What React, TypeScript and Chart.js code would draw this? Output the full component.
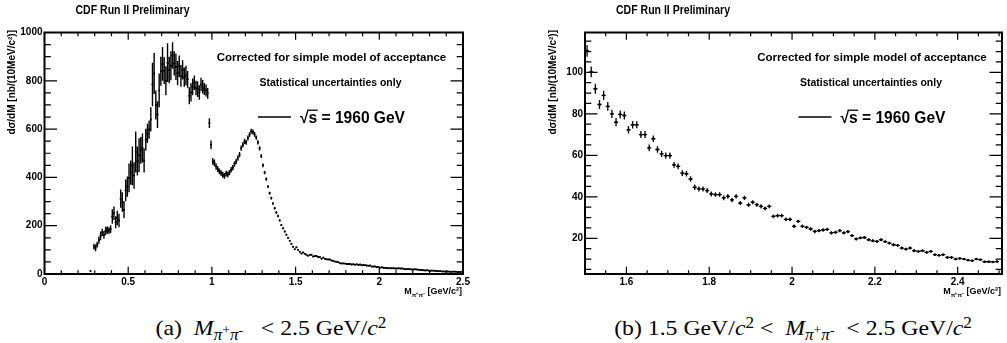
import { useEffect, useRef } from "react";
import { Chart, registerables } from "chart.js";

Chart.register(...registerables);

// ---- histogram binning (10 MeV/c^2 bins) ----
const BIN_WIDTH = 0.01;
const LOW_FIRST_BIN = 0.275;
const MID_FIRST_BIN = 1.005;
const HIGH_FIRST_BIN = 1.505;

// dσ/dM values, 0.275 – 0.995 GeV/c^2
const lowMassValues: (number | null)[] = [
  12, null, 113, 108, 122, 140, 158, 172, 162, 178,
  182, 180, 186, 238, 252, 214, 232, 222, 312, 298,
  266, 346, 362, 398, 420, 448, 408, 505, 468, 492,
  512, 522, 470, 556, 582, 598, 640, 785, 830, 700,
  660, 760, 840, 870, 842, 800, 875, 845, 862, 905,
  872, 858, 832, 860, 820, 845, 815, 822, 806, 738,
  752, 775, 792, 770, 765, 752, 785, 775, 766, 760,
  748, 625, 535,
];
const lowMassErrors: (number | null)[] = [
  3, null, 12, 14, 12, 15, 18, 15, 16, 18,
  15, 14, 16, 30, 28, 25, 30, 28, 38, 40,
  35, 45, 42, 60, 50, 80, 55, 85, 60, 70,
  55, 60, 50, 45, 40, 38, 50, 90, 85, 60,
  55, 70, 60, 70, 55, 60, 80, 55, 60, 55,
  50, 55, 50, 45, 45, 40, 40, 40, 35, 35,
  38, 35, 30, 30, 32, 30, 28, 28, 25, 25,
  22, 20, 18,
];

// 1.005 – 1.495 GeV/c^2
const midMassValues: number[] = [
  466, 460, 445, 434, 425, 418, 411, 406, 416, 412,
  420, 432, 440, 455, 466, 480, 494, 521, 535, 549,
  545, 563, 577, 591, 588, 578, 565, 545, 520, 488,
  450, 420, 393, 362, 335, 314, 292, 272, 255, 240,
  222, 203, 189, 176, 163, 150, 138, 125, 113, 103,
];
const midMassErrors: number[] = [
  14, 14, 13, 13, 12, 12, 12, 12, 12, 12,
  11, 11, 11, 11, 11, 11, 11, 11, 11, 11,
  10, 10, 10, 10, 10, 10, 9, 9, 9, 8,
  8, 7, 7, 6, 6, 6, 5, 5, 5, 5,
  4, 4, 4, 4, 4, 3, 3, 3, 3, 3,
];

// 1.505 – 2.495 GeV/c^2
const highMassValues: number[] = [
  110.3, 100.2, 92.1, 84.5, 88.9, 83.6, 80.0, 76.0, 79.7, 79.2,
  72.3, 74.7, 74.7, 70.0, 70.0, 63.6, 68.0, 62.8, 60.7, 59.9,
  59.9, 55.4, 54.7, 51.4, 51.1, 48.6, 44.6, 43.8, 43.8, 43.0,
  41.4, 41.1, 41.1, 39.5, 40.2, 38.5, 40.2, 37.0, 39.5, 36.1,
  37.4, 36.2, 35.4, 34.4, 35.4, 30.6, 30.9, 30.9, 29.1, 29.1,
  25.8, 28.2, 25.8, 25.3, 24.5, 23.3, 23.7, 24.0, 24.3, 22.6,
  22.9, 23.7, 22.6, 23.2, 21.3, 19.7, 20.2, 20.4, 19.3, 18.8,
  18.5, 19.3, 18.4, 17.7, 16.9, 16.6, 15.3, 14.8, 15.3, 14.0,
  13.7, 14.0, 13.2, 13.7, 12.1, 11.8, 12.1, 10.8, 10.8, 10.0,
  10.3, 10.0, 9.5, 9.2, 10.0, 9.7, 8.7, 8.7, 8.6, 8.8,
];
const highMassErrors: number[] = [
  2.8, 2.6, 2.4, 2.2, 2.2, 2.1, 2.0, 2.0, 1.9, 1.9,
  1.8, 1.8, 1.7, 1.7, 1.7, 1.6, 1.6, 1.6, 1.5, 1.5,
  1.5, 1.4, 1.4, 1.4, 1.3, 1.3, 1.3, 1.2, 1.2, 1.2,
  1.2, 1.1, 1.1, 1.1, 1.1, 1.1, 1.0, 1.0, 1.0, 1.0,
  1.0, 1.0, 1.0, 0.9, 0.9, 0.9, 0.9, 0.9, 0.9, 0.9,
  0.8, 0.8, 0.8, 0.8, 0.8, 0.8, 0.8, 0.8, 0.8, 0.8,
  0.8, 0.8, 0.8, 0.8, 0.7, 0.7, 0.7, 0.7, 0.7, 0.7,
  0.7, 0.7, 0.7, 0.7, 0.7, 0.7, 0.7, 0.7, 0.7, 0.7,
  0.6, 0.6, 0.6, 0.6, 0.6, 0.6, 0.6, 0.6, 0.6, 0.6,
  0.5, 0.5, 0.5, 0.5, 0.5, 0.5, 0.5, 0.5, 0.5, 0.5,
];

// ---- axis tick labels ----
const xTicksFull = [0, 0.5, 1, 1.5, 2, 2.5];
const yTicksFull = [0, 200, 400, 600, 800, 1000];
const xTicksZoom = [1.6, 1.8, 2, 2.2, 2.4];
const yTicksZoom = [20, 40, 60, 80, 100];

// ---- texts ----
const titleText = "CDF Run II Preliminary";
const legendLine1 = "Corrected for simple model of acceptance";
const legendLine2 = "Statistical uncertainties only";
const energyText = " = 1960 GeV";
const yAxisTitle = "dσ/dM [nb/(10MeV/c²)]";

const FONT = "'Liberation Sans', Arial, Helvetica, sans-serif";

const binCentres = (first: number, n: number) =>
  Array.from({ length: n }, (_, i) => Math.round((first + i * BIN_WIDTH) * 1000) / 1000);

const lowX = binCentres(LOW_FIRST_BIN, lowMassValues.length);
const midX = binCentres(MID_FIRST_BIN, midMassValues.length);
const highX = binCentres(HIGH_FIRST_BIN, highMassValues.length);

interface Panel {
  xs: number[];
  ys: (number | null)[];
  errs: (number | null)[];
  xMin: number; xMax: number; yMin: number; yMax: number;
  xTicks: number[]; yTicks: number[];
  xMinorStep: number; yMinorStep: number;
  canvasW: number; canvasH: number;
  left: number; right: number; top: number; bottom: number;
  pointRadius: number; errWidth: number;
}

const fullPanel: Panel = {
  xs: [...lowX, ...midX, ...highX],
  ys: [...lowMassValues, ...midMassValues, ...highMassValues],
  errs: [...lowMassErrors, ...midMassErrors, ...highMassErrors],
  xMin: 0, xMax: 2.5, yMin: 0, yMax: 1000,
  xTicks: xTicksFull, yTicks: yTicksFull,
  xMinorStep: 0.1, yMinorStep: 50,
  canvasW: 500, canvasH: 300,
  left: 44.5, right: 463, top: 32.5, bottom: 274,
  pointRadius: 1, errWidth: 1.4,
};

const zoomPanel: Panel = {
  xs: highX, ys: highMassValues, errs: highMassErrors,
  xMin: 1.5, xMax: 2.507, yMin: 2.8, yMax: 119.2,
  xTicks: xTicksZoom, yTicks: yTicksZoom,
  xMinorStep: 0.05, yMinorStep: 5,
  canvasW: 507, canvasH: 300,
  left: 85, right: 502, top: 32.5, bottom: 274,
  pointRadius: 1.2, errWidth: 1.3,
};

function decorPlugin(p: Panel) {
  const near = (list: number[], v: number) => list.some((t) => Math.abs(t - v) < 1e-6);
  return {
    id: "rootDecor",
    afterDatasetsDraw(chart: any) {
      const { ctx, chartArea: a } = chart;
      const sx = chart.scales.x;
      const sy = chart.scales.y;
      ctx.save();
      ctx.beginPath();
      ctx.rect(a.left, a.top, a.right - a.left, a.bottom - a.top);
      ctx.clip();
      ctx.strokeStyle = "#000";
      ctx.lineWidth = p.errWidth;
      ctx.beginPath();
      p.xs.forEach((x, i) => {
        const y = p.ys[i];
        const e = p.errs[i];
        if (y == null || e == null) return;
        const px = sx.getPixelForValue(x);
        const py = sy.getPixelForValue(y);
        ctx.moveTo(px, sy.getPixelForValue(y - e));
        ctx.lineTo(px, sy.getPixelForValue(y + e));
        ctx.moveTo(sx.getPixelForValue(x - BIN_WIDTH / 2), py);
        ctx.lineTo(sx.getPixelForValue(x + BIN_WIDTH / 2), py);
      });
      ctx.stroke();
      ctx.restore();
    },
    afterDraw(chart: any) {
      const { ctx, chartArea: a } = chart;
      const sx = chart.scales.x;
      const sy = chart.scales.y;
      ctx.save();
      ctx.strokeStyle = "#000";
      ctx.fillStyle = "#000";

      // tick marks (inside the frame, all four sides)
      const xMaj = 7.3, xMin = 3.7, yMaj = 12.5, yMin = 6.3;
      ctx.lineWidth = 1.2;
      ctx.beginPath();
      for (let k = Math.ceil(p.xMin / p.xMinorStep - 1e-6); k * p.xMinorStep <= p.xMax + 1e-6; k++) {
        const v = k * p.xMinorStep;
        const len = near(p.xTicks, v) ? xMaj : xMin;
        const px = sx.getPixelForValue(v);
        ctx.moveTo(px, a.bottom); ctx.lineTo(px, a.bottom - len);
        ctx.moveTo(px, a.top); ctx.lineTo(px, a.top + len);
      }
      for (let k = Math.ceil(p.yMin / p.yMinorStep - 1e-6); k * p.yMinorStep <= p.yMax + 1e-6; k++) {
        const v = k * p.yMinorStep;
        const len = near(p.yTicks, v) ? yMaj : yMin;
        const py = sy.getPixelForValue(v);
        ctx.moveTo(a.left, py); ctx.lineTo(a.left + len, py);
        ctx.moveTo(a.right, py); ctx.lineTo(a.right - len, py);
      }
      ctx.stroke();

      // frame
      ctx.lineWidth = 2;
      ctx.strokeRect(a.left, a.top, a.right - a.left, a.bottom - a.top);

      // title
      ctx.textBaseline = "middle";
      ctx.textAlign = "center";
      ctx.font = `bold 12px ${FONT}`;
      ctx.fillText(titleText, a.left + 88, 11, 114);

      // legend texts
      ctx.font = `bold 11.5px ${FONT}`;
      ctx.fillText(legendLine1, a.left + 287, 58, 236);
      ctx.fillText(legendLine2, a.left + 286, 83, 142);

      // legend sample line
      ctx.lineWidth = 1.5;
      ctx.beginPath();
      ctx.moveTo(a.left + 213.5, 117);
      ctx.lineTo(a.left + 246.5, 117);
      ctx.stroke();

      // √s = 1960 GeV
      ctx.font = `bold 16px ${FONT}`;
      ctx.textAlign = "left";
      ctx.textBaseline = "alphabetic";
      const wRoot = ctx.measureText("√").width;
      const wS = ctx.measureText("s").width;
      const wRest = ctx.measureText(energyText).width;
      const k = Math.min(1, 105 / (wRoot + wS + wRest));
      ctx.save();
      ctx.translate(a.left + 255.5, 123);
      ctx.scale(k, 1);
      ctx.fillText("√", 0, 0);
      ctx.fillText("s", wRoot, 0);
      ctx.fillText(energyText, wRoot + wS, 0);
      ctx.lineWidth = 1.3;
      ctx.beginPath();
      ctx.moveTo(wRoot - 1.5, -12.8);
      ctx.lineTo(wRoot + wS + 0.5, -12.8);
      ctx.stroke();
      ctx.restore();

      // y-axis title (rotated, right-aligned to top)
      ctx.save();
      ctx.translate(a.left - 32, 30);
      ctx.rotate(-Math.PI / 2);
      ctx.textAlign = "right";
      ctx.textBaseline = "middle";
      ctx.font = `bold 10px ${FONT}`;
      ctx.fillText(yAxisTitle, 0, 0, 122);
      ctx.restore();

      // x-axis title  M_{π+π-} [GeV/c²]
      ctx.textBaseline = "middle";
      ctx.textAlign = "left";
      ctx.font = `bold 9px ${FONT}`;
      const wM = ctx.measureText("M").width;
      const unit = " [GeV/c²]";
      const wUnit = ctx.measureText(unit).width;
      ctx.font = `bold 6px ${FONT}`;
      const sub = "π⁺π⁻";
      const wSub = ctx.measureText(sub).width;
      const x0 = a.right - 1 - (wM + wSub + wUnit);
      ctx.font = `bold 9px ${FONT}`;
      ctx.fillText("M", x0, 292);
      ctx.fillText(unit, x0 + wM + wSub, 292);
      ctx.font = `bold 6px ${FONT}`;
      ctx.fillText(sub, x0 + wM, 295);

      ctx.restore();
    },
  };
}

function buildConfig(p: Panel): any {
  const points = p.xs
    .map((x, i) => ({ x, y: p.ys[i] }))
    .filter((d) => d.y != null);
  const tickFont = { family: FONT, size: 10, weight: "bold" as const };
  return {
    type: "scatter",
    data: {
      datasets: [
        {
          data: points,
          pointRadius: p.pointRadius,
          pointBorderWidth: 0,
          pointBackgroundColor: "#000",
          borderColor: "#000",
          showLine: false,
        },
      ],
    },
    options: {
      responsive: false,
      maintainAspectRatio: false,
      animation: false,
      devicePixelRatio: 1,
      events: [],
      layout: {
        padding: { top: p.top, right: p.canvasW - p.right, left: 0, bottom: 0 },
      },
      plugins: {
        legend: { display: false },
        tooltip: { enabled: false },
        title: { display: false },
      },
      scales: {
        x: {
          type: "linear",
          position: "bottom",
          min: p.xMin,
          max: p.xMax,
          grid: { display: false, drawTicks: false, tickLength: 0 },
          border: { display: false },
          afterBuildTicks: (s: any) => {
            s.ticks = p.xTicks.map((v) => ({ value: v }));
          },
          afterFit: (s: any) => {
            s.height = p.canvasH - p.bottom;
          },
          ticks: {
            font: tickFont,
            color: "#000",
            padding: 2,
            maxRotation: 0,
            autoSkip: false,
            callback: (v: any) => String(Math.round(Number(v) * 1000) / 1000),
          },
        },
        y: {
          type: "linear",
          position: "left",
          min: p.yMin,
          max: p.yMax,
          grid: { display: false, drawTicks: false, tickLength: 0 },
          border: { display: false },
          afterBuildTicks: (s: any) => {
            s.ticks = p.yTicks.map((v) => ({ value: v }));
          },
          afterFit: (s: any) => {
            s.width = p.left;
          },
          ticks: {
            font: tickFont,
            color: "#000",
            padding: 2,
            autoSkip: false,
            callback: (v: any) => String(v),
          },
        },
      },
    },
    plugins: [decorPlugin(p)],
  };
}

const captionStyle: any = {
  position: "absolute",
  top: 315,
  fontFamily: "'Liberation Serif', 'Times New Roman', serif",
  fontSize: 22,
  lineHeight: "26px",
  whiteSpace: "nowrap",
  transform: "translateX(-50%) scaleX(1.08)",
  color: "#000",
};
const subStyle: any = { fontSize: "0.72em", verticalAlign: "-0.3em", lineHeight: 0 };
const supStyle: any = { fontSize: "0.72em", verticalAlign: "0.45em", lineHeight: 0 };
const subSupStyle: any = { fontSize: "0.8em", verticalAlign: "0.45em", lineHeight: 0 };

function MassSymbol() {
  return (
    <span>
      <i>M</i>
      <span style={subStyle}>
        <i>π</i>
        <span style={subSupStyle}>+</span>
        <i>π</i>
        <span style={subSupStyle}>-</span>
      </span>
    </span>
  );
}

export default function App() {
  const refA = useRef<HTMLCanvasElement>(null);
  const refB = useRef<HTMLCanvasElement>(null);

  useEffect(() => {
    const a = new Chart(refA.current as HTMLCanvasElement, buildConfig(fullPanel));
    const b = new Chart(refB.current as HTMLCanvasElement, buildConfig(zoomPanel));
    return () => {
      a.destroy();
      b.destroy();
    };
  }, []);

  return (
    <div
      style={{
        position: "absolute",
        left: 0,
        top: 0,
        width: 1007,
        height: 343,
        background: "#fff",
        overflow: "hidden",
      }}
    >
      <canvas
        ref={refA}
        width={500}
        height={300}
        style={{ position: "absolute", left: 0, top: 0, width: 500, height: 300 }}
      />
      <canvas
        ref={refB}
        width={507}
        height={300}
        style={{ position: "absolute", left: 500, top: 0, width: 507, height: 300 }}
      />
      <div style={{ ...captionStyle, left: 271 }}>
        (a)&nbsp;&nbsp;<MassSymbol />&nbsp;&nbsp;&nbsp;&lt;&nbsp;2.5&nbsp;GeV/<i>c</i>
        <span style={supStyle}>2</span>
      </div>
      <div style={{ ...captionStyle, left: 793 }}>
        (b)&nbsp;1.5&nbsp;GeV/<i>c</i>
        <span style={supStyle}>2</span>&nbsp;&lt;&nbsp;&nbsp;<MassSymbol />&nbsp;&nbsp;&lt;&nbsp;2.5&nbsp;GeV/<i>c</i>
        <span style={supStyle}>2</span>
      </div>
    </div>
  );
}
